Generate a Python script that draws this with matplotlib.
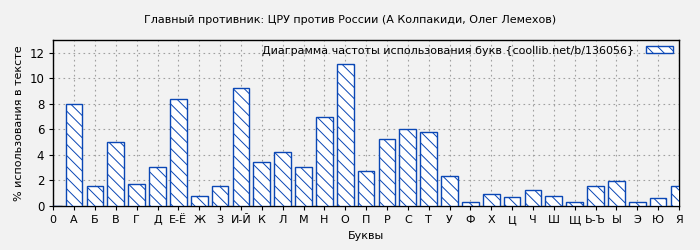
import numpy as np
import matplotlib.pyplot as plt

# буквы и частоты
letters = ["0", "А", "Б", "В", "Г", "Д", "Е-Ё", "Ж", "З", "И-Й", "К", "Л", "М", "Н", "О",
           "П", "Р", "С", "Т", "У", "Ф", "Х", "Ц", "Ч", "Ш", "Щ", "Ь-Ъ", "Ы", "Э", "Ю", "Я"]
freq = [0, 7.95, 1.56, 4.98, 1.70, 3.05, 8.35, 0.78, 1.56, 9.21, 3.42, 4.20, 3.05, 6.94, 11.11,
        2.71, 5.24, 6.00, 5.77, 2.32, 0.29, 0.91, 0.70, 1.23, 0.78, 0.29, 1.56, 1.96, 0.29, 0.60, 1.56]

title = "Главный противник: ЦРУ против России (А Колпакиди, Олег Лемехов)"
legend_label = "Диаграмма частоты использования букв {coollib.net/b/136056}"

bg = "#f2f2f2"
blue = "#0a47b5"
plt.rcParams["hatch.color"] = blue
plt.rcParams["hatch.linewidth"] = 0.7

fig = plt.figure(figsize=(7, 2.5), dpi=100, facecolor=bg)
ax = fig.add_axes([0.076, 0.176, 0.894, 0.664], facecolor=bg)

x = np.arange(len(letters))
ax.bar(x, freq, width=0.8, color="white", edgecolor=blue, hatch="\\\\\\",
       linewidth=1.0, label=legend_label, zorder=3)

ax.set_xlim(0, 30)
ax.set_ylim(0, 13)
ax.set_xticks(x)
ax.set_xticklabels(letters, fontsize=8)
ax.set_yticks(range(0, 13, 2))
ax.tick_params(axis="y", labelsize=8.5, length=3)
ax.tick_params(axis="x", length=3)
ax.grid(True, linestyle=(0, (1.5, 3)), color="#a0a0a0", linewidth=0.8, zorder=0)

for s in ax.spines.values():
    s.set_linewidth(1.0)

ax.set_xlabel("Буквы", fontsize=8)
ax.set_ylabel("% использования в тексте", fontsize=8)
fig.suptitle(title, fontsize=8, y=0.94)

ax.legend(loc="upper right", frameon=False, markerfirst=False, fontsize=8,
          handlelength=2.5, handleheight=0.5, borderaxespad=0.1, handletextpad=1.0)

fig.savefig("out.png", dpi=100, facecolor=bg)
